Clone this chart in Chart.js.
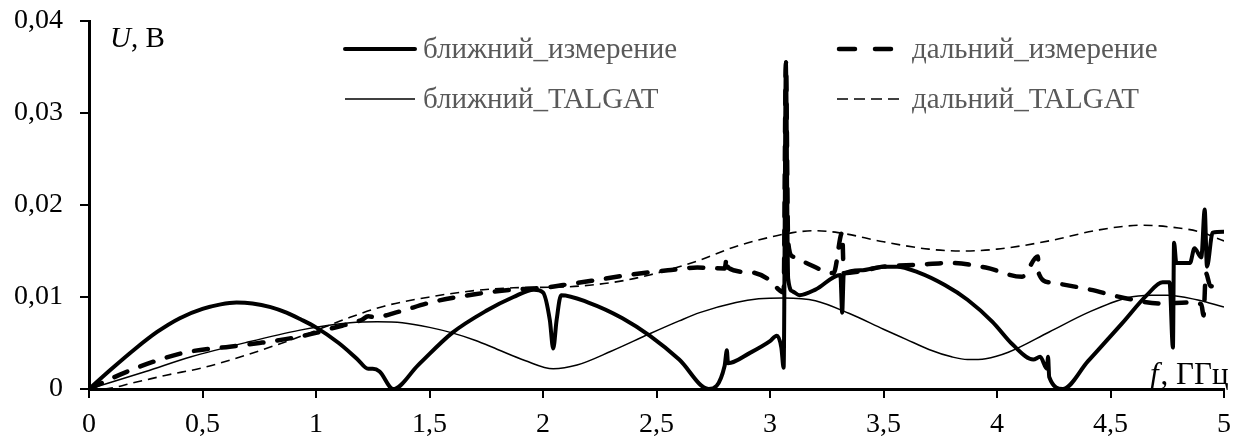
<!DOCTYPE html>
<html>
<head>
<meta charset="utf-8">
<script src="https://cdn.jsdelivr.net/npm/chart.js@4/dist/chart.umd.min.js"></script>
<style>
  body { margin: 0; background: #fff; }
  #wrap { width: 1236px; height: 438px; }
</style>
</head>
<body>
<div id="wrap"><canvas id="chart" width="1236" height="438"></canvas></div>
<script>
// ближний_измерение
const nearMeasX = [0, 0.1, 0.2, 0.3, 0.4, 0.5, 0.58, 0.65, 0.72, 0.8, 0.87, 0.93, 1.0, 1.1, 1.18, 1.23, 1.25, 1.28, 1.34,
    1.45, 1.6, 1.75, 1.87, 1.96, 2.0, 2.03, 2.045, 2.06, 2.08, 2.2, 2.35, 2.47, 2.6, 2.73,
    2.8, 2.81, 2.815, 2.91, 3.0, 3.03, 3.05, 3.06, 3.07, 3.08, 3.1, 3.13, 3.2, 3.31, 3.318, 3.325,
    3.4, 3.5, 3.56, 3.65, 3.77, 3.87, 3.98, 4.07, 4.16, 4.19, 4.22, 4.225, 4.23, 4.29,
    4.4, 4.55, 4.66, 4.73, 4.76, 4.775, 4.78, 4.79, 4.85, 4.87, 4.9, 4.915, 4.925, 4.95, 5.0];
const nearMeasY = [0, 0.0022, 0.0043, 0.0062, 0.0077, 0.0087, 0.0092, 0.0094, 0.0093, 0.0089, 0.0083, 0.0076, 0.0067, 0.005, 0.0033, 0.0022, 0.0022, 0.0019, 0,
    0.0026, 0.0061, 0.0085, 0.0100, 0.0108, 0.0105, 0.0075, 0.0044, 0.0075, 0.0102, 0.0094, 0.0077, 0.0058, 0.0032, 0,
    0.0025, 0.0042, 0.0028, 0.0039, 0.0052, 0.0058, 0.0045, 0.0023, 0.0355, 0.012, 0.0106, 0.0102, 0.0108, 0.0124, 0.0083, 0.0125,
    0.0129, 0.0133, 0.0133, 0.0127, 0.0113, 0.0097, 0.0073, 0.0048, 0.0032, 0.0035, 0.0022, 0.0035, 0.0013, 0,
    0.003, 0.0071, 0.0102, 0.0116, 0.0116, 0.0045, 0.0159, 0.0137, 0.0137, 0.0153, 0.0143, 0.0195, 0.0133, 0.017, 0.0171];

// дальний_измерение
const farMeasX = [0, 0.15, 0.3, 0.43, 0.62, 0.75, 0.885, 1.0, 1.07, 1.2, 1.23, 1.26, 1.35, 1.52, 1.7, 1.87,
    2.0, 2.09, 2.25, 2.38, 2.55, 2.68, 2.8, 2.81, 2.815, 2.91, 3.0, 3.03, 3.06, 3.07, 3.08, 3.1, 3.16,
    3.28, 3.318, 3.325, 3.4, 3.5, 3.65, 3.79, 3.95, 4.11, 4.18, 4.185, 4.23, 4.41, 4.56, 4.72, 4.85,
    4.9, 4.91, 4.92, 4.94, 5.0];
const farMeasY = [0, 0.0017, 0.0031, 0.004, 0.0046, 0.005, 0.0055, 0.0061, 0.0066, 0.0075, 0.0079, 0.0078, 0.0083, 0.0095, 0.0103, 0.0108,
    0.011, 0.0113, 0.0119, 0.0124, 0.0129, 0.0132, 0.0131, 0.0143, 0.0132, 0.0127, 0.0118, 0.011, 0.0105, 0.0355, 0.016, 0.0144, 0.0137,
    0.0126, 0.017, 0.0126, 0.0128, 0.0133, 0.0135, 0.0137, 0.0132, 0.0122, 0.0144, 0.0125, 0.0116, 0.0108, 0.0099, 0.0093, 0.0094,
    0.0092, 0.008, 0.0126, 0.0112, 0.0111];

// ближний_TALGAT
const nearCalcX = [0, 0.25, 0.45, 0.7, 0.93, 1.05, 1.15, 1.27, 1.38, 1.5, 1.6, 1.7, 1.8, 1.92, 2.045, 2.15, 2.3, 2.47, 2.6, 2.69, 2.85, 2.95, 3.06,
    3.2, 3.35, 3.5, 3.6, 3.7, 3.8, 3.87, 3.95, 4.05, 4.23, 4.4, 4.57, 4.68, 4.75, 4.88, 5.0];
const nearCalcY = [0, 0.0019, 0.0035, 0.0051, 0.0064, 0.0069, 0.0072, 0.0073, 0.0072, 0.0067, 0.0061, 0.0053, 0.0043, 0.0031, 0.0022, 0.0026, 0.0041, 0.006, 0.0074, 0.0083, 0.0094, 0.0098, 0.0099,
    0.0096, 0.0082, 0.0065, 0.0054, 0.0043, 0.0035, 0.0032, 0.0033, 0.004, 0.0062, 0.0083, 0.0099, 0.0102, 0.0102, 0.0097, 0.0089];

// дальний_TALGAT
const farCalcX = [0, 0.06, 0.2, 0.34, 0.5, 0.63, 0.78, 0.93, 1.14, 1.3, 1.5, 1.7, 1.87, 2.1, 2.31, 2.47, 2.69, 2.85, 3.0, 3.1,
    3.19, 3.3, 3.5, 3.7, 3.84, 4.0, 4.23, 4.45, 4.64, 4.8, 4.89, 5.0];
const farCalcY = [0, 0, 0.0007, 0.0015, 0.0023, 0.0032, 0.0044, 0.0057, 0.0077, 0.009, 0.01, 0.0107, 0.011, 0.0111, 0.0116, 0.0124, 0.014, 0.0155, 0.0165, 0.017,
    0.0172, 0.017, 0.016, 0.0152, 0.015, 0.0152, 0.0161, 0.0173, 0.0178, 0.0175, 0.0171, 0.0161];

const seriesNames = ['ближний_измерение', 'дальний_измерение', 'ближний_TALGAT', 'дальний_TALGAT'];
const xTickLabels = ['0', '0,5', '1', '1,5', '2', '2,5', '3', '3,5', '4', '4,5', '5'];
const yTickLabels = ['0', '0,01', '0,02', '0,03', '0,04'];

const toPoints = (xs, ys) => xs.map((x, i) => ({ x, y: ys[i] }));
const serif = 'Liberation Serif, Times New Roman, serif';

const lineStyles = [
    { borderWidth: 4, borderDash: [], borderCapStyle: 'round' },
    { borderWidth: 4.5, borderDash: [14, 14], borderCapStyle: 'round' },
    { borderWidth: 1.5, borderDash: [], borderCapStyle: 'butt' },
    { borderWidth: 1.6, borderDash: [9, 6], borderCapStyle: 'butt' }
];

const pointSets = [
    toPoints(nearMeasX, nearMeasY),
    toPoints(farMeasX, farMeasY),
    toPoints(nearCalcX, nearCalcY),
    toPoints(farCalcX, farCalcY)
];

// legend and axis titles are drawn by hand
const legendPlugin = {
    id: 'manualLegend',
    afterDraw(chart) {
        const ctx = chart.ctx;
        const spots = [
            { x1: 345, x2: 415, tx: 423, y: 49 },
            { x1: 839, x2: 893, tx: 912, y: 49 },
            { x1: 345, x2: 415, tx: 423, y: 99 },
            { x1: 837, x2: 903, tx: 912, y: 99 }
        ];
        ctx.save();
        spots.forEach((s, i) => {
            const st = lineStyles[i];
            ctx.strokeStyle = '#000';
            ctx.lineWidth = st.borderWidth;
            ctx.lineCap = st.borderCapStyle;
            ctx.setLineDash(i === 1 ? [16, 20] : (i === 3 ? [11, 6] : st.borderDash));
            ctx.beginPath();
            ctx.moveTo(s.x1, s.y);
            ctx.lineTo(s.x2, s.y);
            ctx.stroke();
            ctx.setLineDash([]);
            ctx.fillStyle = '#595959';
            ctx.font = '29px ' + serif;
            ctx.textBaseline = 'middle';
            ctx.textAlign = 'left';
            ctx.fillText(seriesNames[i], s.tx, s.y + 1);
        });

        ctx.fillStyle = '#000';
        ctx.textBaseline = 'alphabetic';
        ctx.font = 'italic 29px ' + serif;
        ctx.fillText('U', 110, 47);
        let w = ctx.measureText('U').width;
        ctx.font = '29px ' + serif;
        ctx.fillText(', В', 110 + w, 47);

        ctx.font = 'italic 31px ' + serif;
        ctx.fillText('f', 1150, 384);
        w = ctx.measureText('f').width;
        ctx.font = '31px ' + serif;
        ctx.fillText(', ГГц', 1150 + w + 2, 384);
        ctx.restore();
    }
};

const axisCommon = {
    grid: { drawOnChartArea: false, drawTicks: true, tickLength: 9, color: '#000', lineWidth: 2 },
    border: { display: true, color: '#000', width: 3 }
};

new Chart(document.getElementById('chart'), {
    type: 'scatter',
    data: {
        datasets: pointSets.map((pts, i) => ({
            label: seriesNames[i],
            data: pts,
            showLine: true,
            borderColor: '#000',
            backgroundColor: '#000',
            pointRadius: 0,
            borderJoinStyle: 'round',
            cubicInterpolationMode: 'monotone',
            ...lineStyles[i]
        }))
    },
    options: {
        responsive: false,
        animation: false,
        layout: { padding: { top: 21, right: 12, bottom: 0, left: 0 } },
        plugins: {
            legend: { display: false },
            tooltip: { enabled: false }
        },
        scales: {
            x: {
                ...axisCommon,
                type: 'linear',
                min: 0,
                max: 5,
                afterFit: (scale) => {
                    scale.height = 49;
                    scale.paddingLeft = 0;
                    scale.paddingRight = 0;
                },
                ticks: {
                    stepSize: 0.5,
                    padding: 10,
                    maxRotation: 0,
                    color: '#000',
                    font: { family: serif, size: 28 },
                    callback: (value, index) => xTickLabels[index]
                }
            },
            y: {
                ...axisCommon,
                min: 0,
                max: 0.04,
                afterFit: (scale) => {
                    scale.width = 89;
                    scale.paddingTop = 0;
                    scale.paddingBottom = 0;
                },
                ticks: {
                    stepSize: 0.01,
                    padding: 17,
                    color: '#000',
                    font: { family: serif, size: 28 },
                    callback: (value, index) => yTickLabels[index]
                }
            }
        }
    },
    plugins: [legendPlugin]
});
</script>
</body>
</html>
